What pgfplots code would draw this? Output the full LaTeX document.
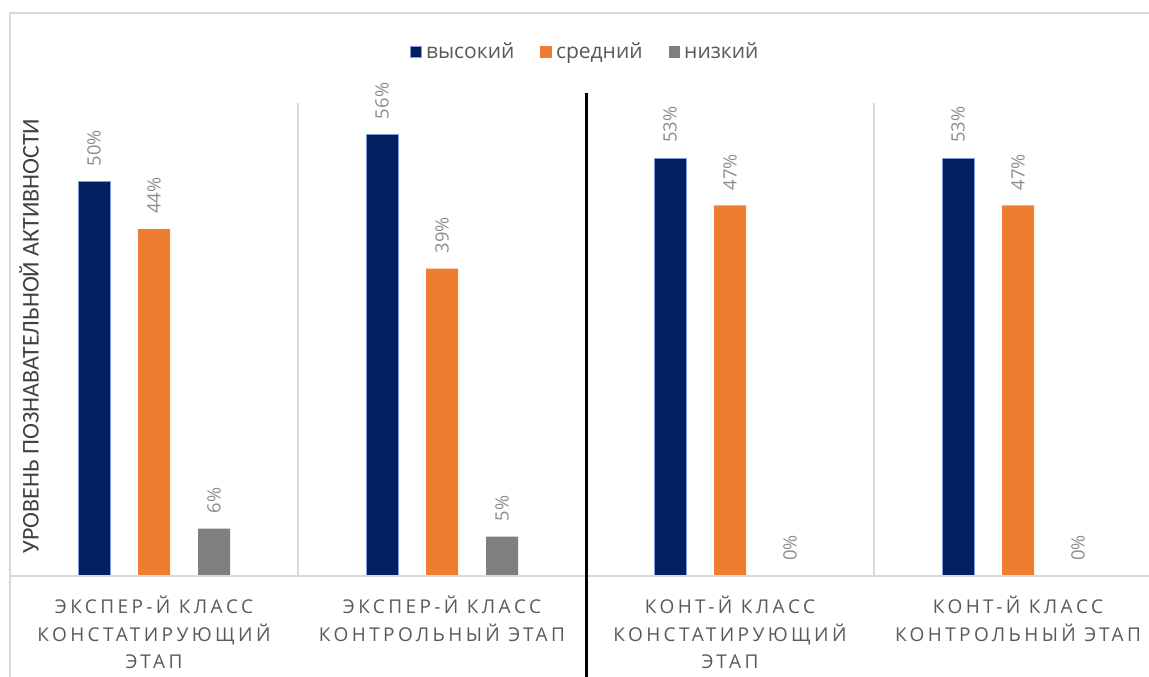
\documentclass[border=0pt]{standalone}
\usepackage{fontspec}
\setmainfont{Carlito}
\newfontfamily\osans{Open Sans}
\newfontfamily\osanssp[LetterSpace=18]{Open Sans}
\usepackage{pgfplots}
\pgfplotsset{compat=1.18}
\definecolor{navy}{HTML}{002060}
\definecolor{orng}{HTML}{ED7D31}
\definecolor{gry}{HTML}{7F7F7F}
\definecolor{lgrid}{HTML}{D9D9D9}
\definecolor{txt}{HTML}{595959}
\definecolor{lbl}{HTML}{8C8C8C}
\definecolor{ytxt}{HTML}{404040}
\definecolor{edge}{HTML}{7F9CD6}
\pgfplotstableread{
x hi mid lo
0 50 44 6
1 56 39 5
2 53 47 0
3 53 47 0
}\datatab
\begin{document}
\begin{tikzpicture}[x=1pt,y=1pt]
\draw[lgrid, line width=0.75pt] (5,-10) -- (5,331.5) -- (590,331.5);
\begin{axis}[
  at={(5pt,50pt)}, anchor=south west,
  scale only axis, width=576pt, height=236.5pt,
  xmin=-0.5, xmax=3.5, ymin=0, ymax=60,
  axis line style={draw=none},
  ytick=\empty,
  xtick={0,1,2,3},
  xticklabels={{ЭКСПЕР-Й КЛАСС\\КОНСТАТИРУЮЩИЙ\\ЭТАП},{ЭКСПЕР-Й КЛАСС\\КОНТРОЛЬНЫЙ ЭТАП},{КОНТ-Й КЛАСС\\КОНСТАТИРУЮЩИЙ\\ЭТАП},{КОНТ-Й КЛАСС\\КОНТРОЛЬНЫЙ ЭТАП}},
  major tick length=0pt,
  minor xtick={0.5,2.5,3.5},
  minor tick length=0pt,
  xminorgrids, minor grid style={lgrid, line width=0.75pt},
  xticklabel style={align=center, font=\osanssp\fontsize{9.5}{13.75}\selectfont, text=txt, anchor=north, yshift=-6.5pt},
  ybar=14pt, bar width=16pt,
  nodes near coords={\pgfmathprintnumber[assume math mode=true]{\pgfplotspointmeta}\%},
  nodes near coords style={rotate=90, anchor=west, font=\osans\fontsize{9.2}{11}\selectfont, text=lbl, inner xsep=7.5pt, inner ysep=0pt},
  clip=false,
  legend columns=-1,
  legend style={at={(axis description cs:0.5,1.108)}, anchor=center, draw=none, fill=none, font=\osans\fontsize{10.5}{12}\selectfont, text=txt, /tikz/every even column/.append style={column sep=11pt}},
]
\addplot[fill=navy, draw=edge, line width=0.5pt, legend image code/.code={\draw[fill=navy, draw=edge, line width=0.5pt] (0pt,-2.9pt) rectangle (5.8pt,2.9pt);}] table[x=x, y=hi] {\datatab};
\addplot[fill=orng, draw=none, legend image code/.code={\fill[orng] (0pt,-2.9pt) rectangle (5.8pt,2.9pt);}] table[x=x, y=mid] {\datatab};
\addplot[fill=gry, draw=none, legend image code/.code={\fill[gry] (0pt,-2.9pt) rectangle (5.8pt,2.9pt);}] table[x=x, y=lo] {\datatab};
\legend{высокий, средний, низкий}
\draw[lgrid, line width=0.75pt] (axis cs:-0.5,0) -- (axis cs:3.5,0);
\draw[black, line width=1.5pt] (axis cs:1.5,61.27) -- (axis cs:1.5,-20);
\end{axis}
\node[rotate=90, text=ytxt, font=\fontsize{12}{14}\selectfont] at (14.5,170) {УРОВЕНЬ ПОЗНАВАТЕЛЬНОЙ АКТИВНОСТИ};
\pgfresetboundingbox
\useasboundingbox (0,0) rectangle (574.5,338);
\end{tikzpicture}
\end{document}
